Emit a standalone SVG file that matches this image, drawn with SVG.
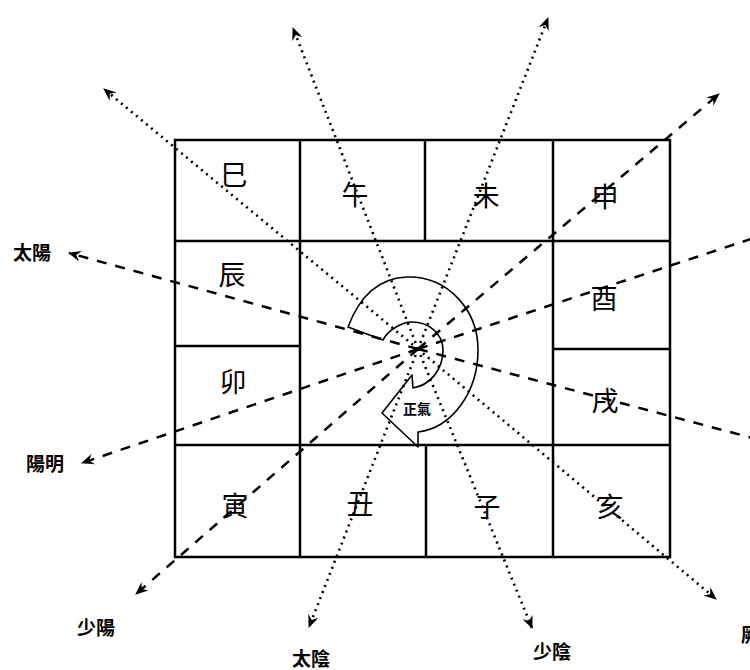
<svg xmlns="http://www.w3.org/2000/svg" width="750" height="670" viewBox="0 0 750 670">
<style>
.grid{fill:none;stroke:#000;stroke-width:2.5}
.cell{font-family:"Noto Sans CJK TC","Noto Sans CJK SC",sans-serif;font-size:27px;fill:#000;text-anchor:middle;dominant-baseline:central}
.lab{font-family:"Noto Sans CJK TC","Noto Sans CJK SC",sans-serif;font-size:19px;font-weight:bold;fill:#000;text-anchor:middle;dominant-baseline:central}
.dot{fill:none;stroke:#000;stroke-width:2.6;stroke-dasharray:2 4.5}
.dash{fill:none;stroke:#000;stroke-width:2.5;stroke-dasharray:10 9}
.spiral{fill:none;stroke:#000;stroke-width:1.6;stroke-linejoin:round}
</style>
<defs>
<marker id="ah" viewBox="0 0 12 10" refX="11" refY="5" markerWidth="13" markerHeight="11" markerUnits="userSpaceOnUse" orient="auto">
<path d="M0,0 L12,5 L0,10 L4,5 Z" fill="#000"/>
</marker>
</defs>
<rect width="750" height="670" fill="#fff"/>
<g id="grid">
<rect class="grid" x="175" y="140" width="495" height="417"/>
<line class="grid" x1="175" y1="241" x2="670" y2="241"/>
<line class="grid" x1="175" y1="445" x2="670" y2="445"/>
<line class="grid" x1="175" y1="346" x2="300" y2="346"/>
<line class="grid" x1="553" y1="349" x2="670" y2="349"/>
<line class="grid" x1="300" y1="140" x2="300" y2="557"/>
<line class="grid" x1="553" y1="140" x2="553" y2="557"/>
<line class="grid" x1="425" y1="140" x2="425" y2="241"/>
<line class="grid" x1="426" y1="445" x2="426" y2="557"/>
</g>
<g id="connectors">
<line class="dot" x1="418" y1="349" x2="104" y2="89" marker-end="url(#ah)"/>
<line class="dot" x1="418" y1="349" x2="293" y2="28" marker-end="url(#ah)"/>
<line class="dot" x1="418" y1="349" x2="548" y2="18" marker-end="url(#ah)"/>
<line class="dash" x1="418" y1="349" x2="719" y2="94" marker-end="url(#ah)"/>
<line class="dash" x1="418" y1="349" x2="760" y2="236"/>
<line class="dash" x1="418" y1="349" x2="760" y2="440"/>
<line class="dot" x1="418" y1="349" x2="716" y2="599" marker-end="url(#ah)"/>
<line class="dot" x1="418" y1="349" x2="532" y2="628" marker-end="url(#ah)"/>
<line class="dot" x1="418" y1="349" x2="309" y2="627" marker-end="url(#ah)"/>
<line class="dash" x1="418" y1="349" x2="136" y2="594" marker-end="url(#ah)"/>
<line class="dash" x1="418" y1="349" x2="82" y2="463" marker-end="url(#ah)"/>
<line class="dash" x1="418" y1="349" x2="69" y2="253" marker-end="url(#ah)"/>
</g>
<g id="spiral">
<path class="spiral" d="M348,327 C360,295 380,278 407,277 C448,276 478,310 478,350 C478,392 452,428 418,432 L418,447 L382,413 L412,375 L413,388 C430,385 443,370 443,350 C443,333 428,322 412,322 C402,322 388,330 383,340 Z"/>
<text class="cell" x="417" y="408" style="font-size:14px;font-weight:bold">正氣</text>
</g>
<g id="cells">
<text id="si" class="cell" x="234" y="173">巳</text>
<text id="wu" class="cell" x="355" y="193">午</text>
<text id="wei" class="cell" x="486" y="194">未</text>
<text id="shen" class="cell" x="605" y="195">申</text>
<text id="chen" class="cell" x="232" y="273">辰</text>
<text id="mao" class="cell" x="233" y="380">卯</text>
<text id="you" class="cell" x="604" y="297">酉</text>
<text id="xu" class="cell" x="605" y="399">戌</text>
<text id="yin" class="cell" x="235" y="504">寅</text>
<text id="chou" class="cell" x="360" y="502">丑</text>
<text id="zi" class="cell" x="487" y="505">子</text>
<text id="hai" class="cell" x="610" y="505">亥</text>
</g>
<g id="labels">
<text class="lab" x="32" y="251">太陽</text>
<text class="lab" x="45" y="462">陽明</text>
<text class="lab" x="96" y="626">少陽</text>
<text class="lab" x="311" y="657">太陰</text>
<text class="lab" x="552" y="650">少陰</text>
<text class="lab" x="760" y="633">厥陰</text>
</g>
</svg>
